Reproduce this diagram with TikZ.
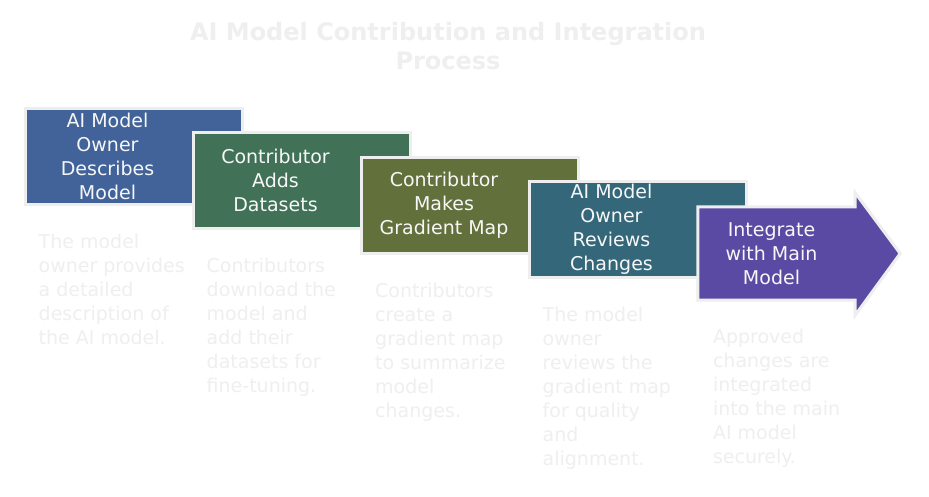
\documentclass[tikz,border=0pt]{standalone}
\usepackage{fontspec}
\setmainfont{DejaVu Sans}
\usetikzlibrary{positioning}
\definecolor{ownerblue}{HTML}{41639A}
\definecolor{contribgreen}{HTML}{417258}
\definecolor{mapolive}{HTML}{62703C}
\definecolor{reviewteal}{HTML}{336779}
\definecolor{mergepurple}{HTML}{5B4AA3}
\definecolor{edgegray}{HTML}{EEEEEE}
\definecolor{notegray}{HTML}{EFEFEF}

\begin{document}
\begin{tikzpicture}[
  x=1pt,y=-1pt,
  stepbox/.style={draw=edgegray,line width=3pt,minimum width=217pt,
    minimum height=96pt,inner sep=0pt},
  steptext/.style={text=white!97!black,align=center,inner sep=0pt,
    font=\fontsize{19}{24}\selectfont},
  note/.style={text=notegray,align=left,anchor=north west,inner sep=0pt,
    font=\fontsize{19}{24}\selectfont}
]
\fill[white] (0,0) rectangle (929,496);
% title
\node[text=notegray,align=center,font=\fontsize{24}{29}\selectfont\bfseries]
  (title) at (448,46) {AI Model Contribution and Integration\\Process};
% steps 1--4
\foreach \i/\cx/\cy/\col/\txt/\desc in {
  1/133.5/156.5/ownerblue/{AI Model\\Owner\\Describes\\Model}/{The model\\owner provides\\a detailed\\description of\\the AI model.},
  2/301.5/180.5/contribgreen/{Contributor\\Adds\\Datasets}/{Contributors\\download the\\model and\\add their\\datasets for\\fine-tuning.},
  3/470/205.5/mapolive/{Contributor\\Makes\\Gradient Map}/{Contributors\\create a\\gradient map\\to summarize\\model\\changes.},
  4/637.5/229.5/reviewteal/{AI Model\\Owner\\Reviews\\Changes}/{The model\\owner\\reviews the\\gradient map\\for quality\\and\\alignment.}}{
  \node[stepbox,fill=\col] (s\i) at (\cx,\cy) {};
  \node[steptext] (t\i) at ([xshift=-26pt]s\i.center) {\txt};
  \node[note] (n\i) at ([shift={(15,28)}]s\i.south west) {\desc};
}
% step 5, the arrow
\node[minimum width=157pt,minimum height=93pt,inner sep=0pt] (s5) at (776.5,253.5) {};
\filldraw[fill=mergepurple,draw=edgegray,line width=3pt]
  (s5.north west) -- (s5.north east) -- ++(0,-14) -- ([xshift=45pt]s5.east)
  -- ([yshift=-15pt]s5.south east) -- (s5.south east) -- (s5.south west) -- cycle;
\node[steptext] (t5) at ([xshift=-5pt]s5.center) {Integrate\\with Main\\Model};
\node[note] (n5) at ([shift={(15,29)}]s5.south west)
  {Approved\\changes are\\integrated\\into the main\\AI model\\securely.};
\end{tikzpicture}
\end{document}
